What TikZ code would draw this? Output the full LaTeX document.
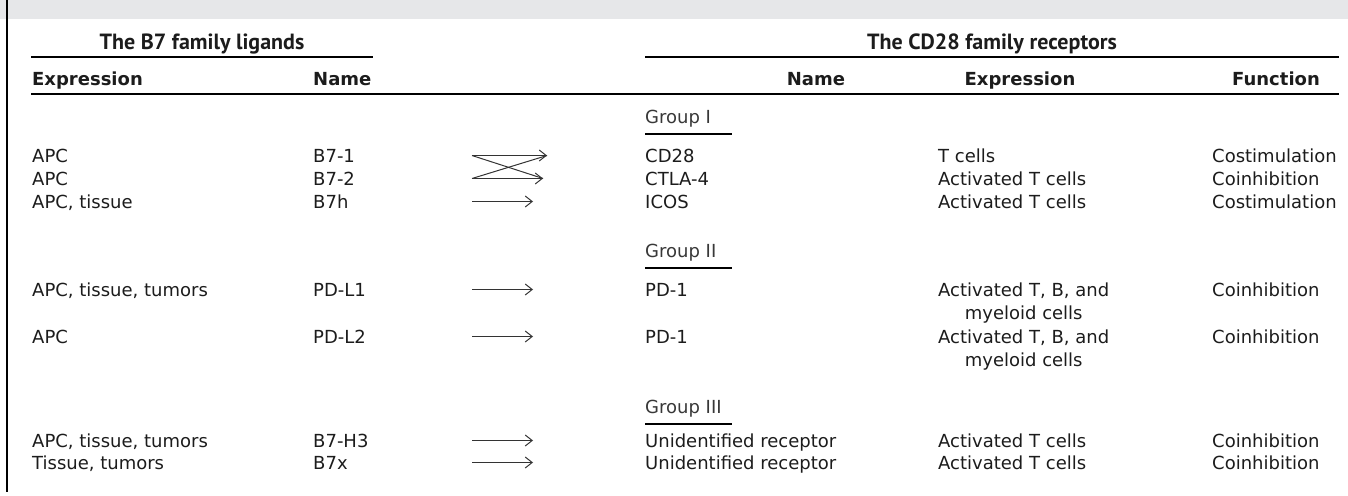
\documentclass[tikz,border=0pt]{standalone}
\usepackage{fontspec}
\setmainfont{DejaVu Sans}
\newfontfamily\headfont{PT Sans}
\usetikzlibrary{arrows.meta}
\definecolor{bandgray}{HTML}{E6E7E9}
\definecolor{ink}{HTML}{1C1C1C}
\newcommand\bodysize{\fontsize{18}{23}\selectfont}
\newcommand\twoline[2]{\begin{tabular}[t]{@{}c@{}}#1\\#2\end{tabular}}

\begin{document}
\begin{tikzpicture}[x=1pt, y=-1pt,
    cell/.style={anchor=base west, inner sep=0pt, text=ink, font=\bodysize},
    colhead/.style={cell, font=\bodysize\bfseries},
    famhead/.style={anchor=base, inner sep=0pt, text=ink, font=\headfont\fontsize{22}{26}\selectfont\bfseries},
    grouplabel/.style={cell, text=black!78},
    rule/.style={line width=2pt},
    grouprule/.style={line width=2.6pt},
    bind/.style={draw=black!80, line width=1pt},
    binds/.style={bind, -{Straight Barb[length=7pt,width=11pt]}}]

    \useasboundingbox (0,0) rectangle (1348,495);

    \def \xexl{32}
    \def \xnml{313}
    \def \xarr{472}
    \def \xnmr{645}
    \def \xexr{938}
    \def \xfun{1212}

    % band and frame
    \fill[bandgray] (0,0) rectangle (1348,19.5);
    \draw[line width=1.4pt] (7,0) -- (7,492);

    % family headings
    \node[famhead] (ligands) at (202,49) {The B7 family ligands};
    \node[famhead] (receptors) at (992,49) {The CD28 family receptors};
    \draw[rule] (31,57) -- (373,57);
    \draw[rule] (645,57) -- (1339,57);

    % column headings
    \node[colhead] (hexl) at (\xexl,85) {Expression};
    \node[colhead] (hnml) at (\xnml,85) {Name};
    \node[colhead, anchor=base] (hnmr) at (816,85) {Name};
    \node[colhead, anchor=base] (hexr) at (1020,85) {Expression};
    \node[colhead, anchor=base] (hfun) at (1276,85) {Function};
    \draw[rule] (31,94) -- (1339,94);

    % groups
    \foreach \gy/\gname in {123/I, 257/II, 413/III} {
        \node[grouplabel] (grp\gname) at (\xnmr,\gy) {Group \gname};
        \draw[grouprule] (\xnmr,\gy+11) -- (732,\gy+11);
    }

    % rows
    \foreach \i/\ry/\exl/\nml/\nmr/\exr/\fun in {
        1/162/APC/B7-1/CD28/T cells/Costimulation,
        2/185/APC/B7-2/CTLA-4/Activated T cells/Coinhibition,
        3/208/{APC, tissue}/B7h/ICOS/Activated T cells/Costimulation,
        4/296/{APC, tissue, tumors}/PD-L1/PD-1/{\twoline{Activated T, B, and}{myeloid cells}}/Coinhibition,
        5/343/APC/PD-L2/PD-1/{\twoline{Activated T, B, and}{myeloid cells}}/Coinhibition,
        6/447/{APC, tissue, tumors}/B7-H3/Unidentified receptor/Activated T cells/Coinhibition,
        7/469/{Tissue, tumors}/B7x/Unidentified receptor/Activated T cells/Coinhibition} {
        \node[cell] (exl\i) at (\xexl,\ry) {\exl};
        \node[cell] (nml\i) at (\xnml,\ry) {\nml};
        \node[cell] (nmr\i) at (\xnmr,\ry) {\nmr};
        \node[cell] (exr\i) at (\xexr,\ry) {\exr};
        \node[cell] (fun\i) at (\xfun,\ry) {\fun};
        \coordinate (s\i) at (\xarr,\ry-6.5);
        \coordinate (e\i) at (533,\ry-6.5);
    }

    % crossed bindings
    \coordinate (t1) at (547,155.5);
    \coordinate (t2) at (543,178.5);
    \draw[binds] (s1) -- (t1);
    \draw[binds] (s2) -- (t2);
    \draw[bind] (s1) -- (t2);
    \draw[bind] (s2) -- (t1);

    % single bindings
    \foreach \i in {3,...,7} {
        \draw[binds] (s\i) -- (e\i);
    }

\end{tikzpicture}
\end{document}
